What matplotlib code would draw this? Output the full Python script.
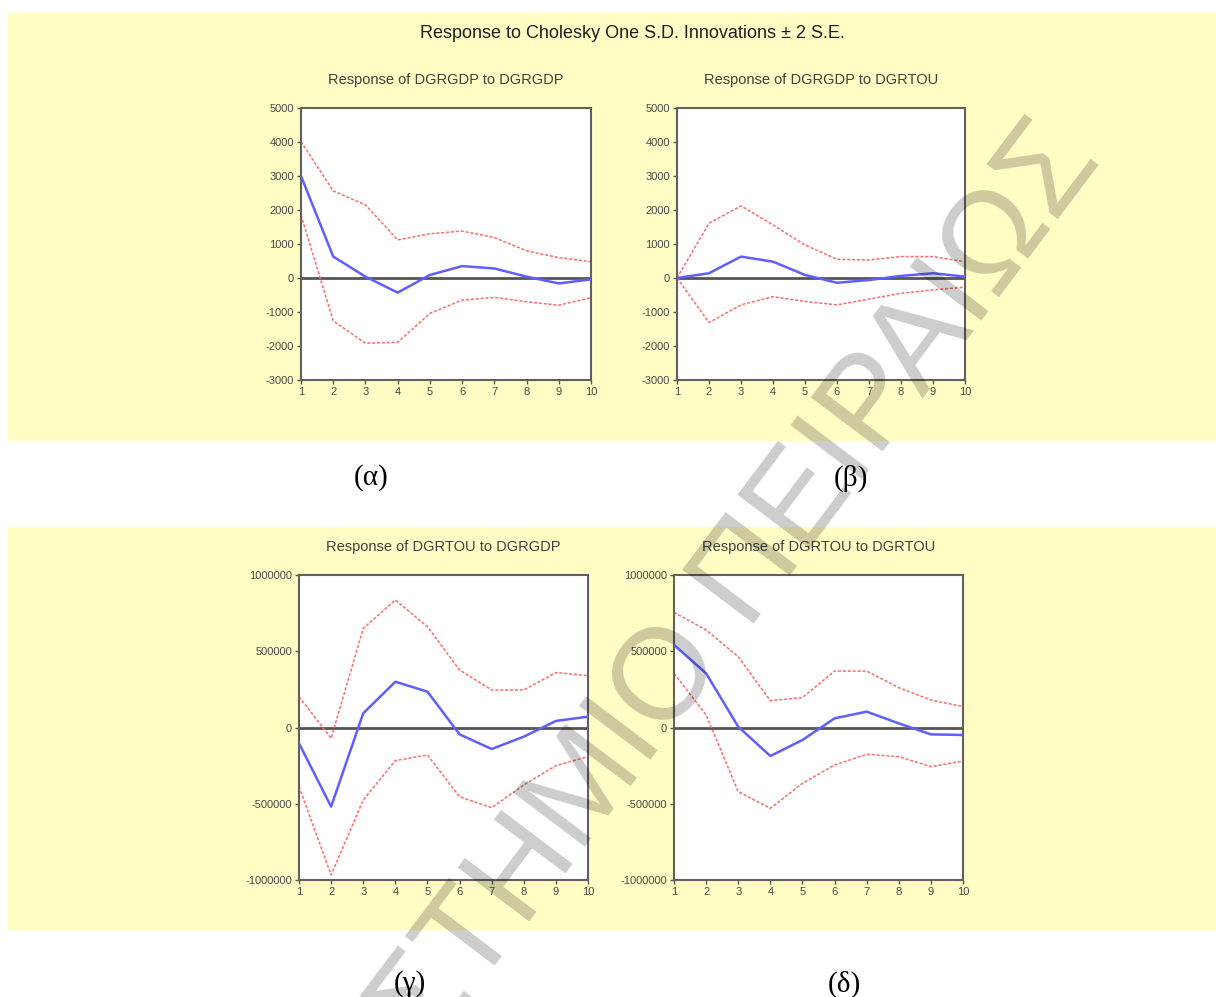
import matplotlib
matplotlib.use('Agg')
import matplotlib.pyplot as plt
from matplotlib.patches import Rectangle

plt.rcParams['font.family'] = ['Liberation Sans', 'DejaVu Sans']
plt.rcParams['axes.unicode_minus'] = False

periods = [1, 2, 3, 4, 5, 6, 7, 8, 9, 10]

# Response of DGRGDP to DGRGDP
gdp_gdp = [3000, 630, 40, -430, 90, 350, 280, 40, -160, -40]
gdp_gdp_hi = [4010, 2560, 2150, 1120, 1300, 1380, 1190, 800, 600, 480]
gdp_gdp_lo = [1850, -1260, -1920, -1890, -1040, -650, -570, -700, -800, -580]

# Response of DGRGDP to DGRTOU
gdp_tou = [0, 140, 630, 480, 90, -140, -60, 60, 140, 40]
gdp_tou_hi = [0, 1610, 2120, 1560, 970, 550, 530, 630, 630, 480]
gdp_tou_lo = [0, -1310, -790, -550, -690, -790, -620, -450, -350, -270]

# Response of DGRTOU to DGRGDP
tou_gdp = [-104000, -519000, 93000, 300000, 235000, -45000, -141000, -60000, 43000, 71000]
tou_gdp_hi = [202000, -71000, 650000, 836000, 661000, 377000, 246000, 246000, 360000, 340000]
tou_gdp_lo = [-388000, -967000, -475000, -217000, -180000, -454000, -526000, -377000, -250000, -191000]

# Response of DGRTOU to DGRTOU
tou_tou = [541000, 355000, 5000, -187000, -82000, 60000, 104000, 27000, -45000, -49000]
tou_tou_hi = [755000, 639000, 464000, 176000, 196000, 370000, 370000, 261000, 180000, 137000]
tou_tou_lo = [355000, 82000, -421000, -530000, -366000, -246000, -176000, -191000, -257000, -220000]

titles = ['Response of DGRGDP to DGRGDP', 'Response of DGRGDP to DGRTOU',
          'Response of DGRTOU to DGRGDP', 'Response of DGRTOU to DGRTOU']
small_ticks = [-3000, -2000, -1000, 0, 1000, 2000, 3000, 4000, 5000]
big_ticks = [-1000000, -500000, 0, 500000, 1000000]
captions = ['(α)', '(β)', '(γ)', '(δ)']

W, H = 1216, 997
fig = plt.figure(figsize=(W / 100, H / 100), dpi=100)
fig.patch.set_facecolor('white')

# yellow backgrounds behind each pair of panels
for top, bottom in [(13, 440), (527, 929)]:
    fig.patches.append(Rectangle((8 / W, 1 - bottom / H), (W - 8) / W, (bottom - top) / H,
                                 transform=fig.transFigure, color='#fffcc4', zorder=-5))

fig.text(632 / W, 1 - 33 / H, 'Response to Cholesky One S.D. Innovations ± 2 S.E.',
         ha='center', va='center', fontsize=13, color='#1e1e1e')

# pixel boxes: left, right, top, bottom
boxes = [(301, 591, 108, 380), (677, 965, 108, 380),
         (299, 588, 575, 880), (674, 963, 575, 880)]
series = [(gdp_gdp, gdp_gdp_hi, gdp_gdp_lo), (gdp_tou, gdp_tou_hi, gdp_tou_lo),
          (tou_gdp, tou_gdp_hi, tou_gdp_lo), (tou_tou, tou_tou_hi, tou_tou_lo)]

for i, (box, (resp, hi, lo)) in enumerate(zip(boxes, series)):
    l, r, t, b = box
    ax = fig.add_axes([l / W, 1 - b / H, (r - l) / W, (b - t) / H])
    ax.set_facecolor('white')
    ax.axhline(0, color='#555555', lw=2, zorder=1)
    ax.plot(periods, hi, color='#ff6b6b', lw=1.1, ls=(0, (2, 1.2)), zorder=2)
    ax.plot(periods, lo, color='#ff6b6b', lw=1.1, ls=(0, (2, 1.2)), zorder=2)
    ax.plot(periods, resp, color='#5f5fff', lw=1.8, zorder=3)
    ticks = small_ticks if i < 2 else big_ticks
    ax.set_xlim(1, 10)
    ax.set_ylim(ticks[0], ticks[-1])
    ax.set_xticks(periods)
    ax.set_yticks(ticks)
    ax.set_yticklabels([str(v) for v in ticks])
    ax.tick_params(direction='out', length=3, width=1, color='#555555',
                   labelsize=8, labelcolor='#4a4a4a', pad=2)
    for s in ax.spines.values():
        s.set_color('#606060')
        s.set_linewidth(1.5)
    ax.text(0.5, 1 + 28 / (b - t), titles[i], transform=ax.transAxes,
            ha='center', va='center', fontsize=10.5, color='#404040')

cap_pos = [(371, 478), (851, 478), (410, 984), (844, 984)]
for (cx, cy), cap in zip(cap_pos, captions):
    fig.text(cx / W, 1 - cy / H, cap, ha='center', va='center', fontsize=21,
             family=['Liberation Serif', 'DejaVu Serif'], color='black')

# diagonal watermark over the whole page
fig.text(592 / W, 1 - 783 / H, 'ΠΑΝΕΠΙΣΤΗΜΙΟ ΠΕΙΡΑΙΩΣ', rotation=53,
         rotation_mode='anchor', ha='center', va='center', fontsize=93,
         color='black', alpha=0.2, zorder=10)

fig.savefig('out.png', dpi=100)
